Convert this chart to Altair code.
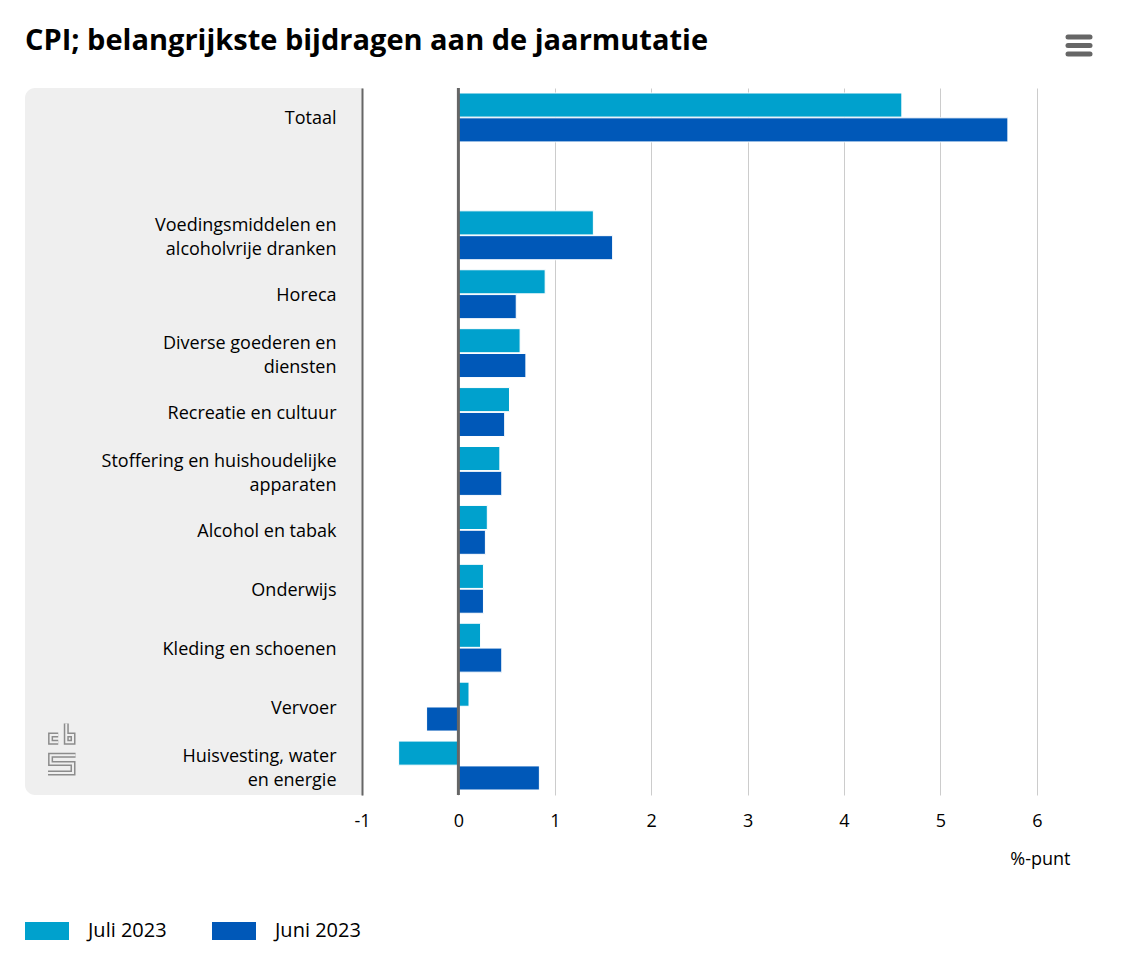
import altair as alt
import pandas as pd

categories = [
    "Totaal",
    " ",
    "Voedingsmiddelen en\nalcoholvrije dranken",
    "Horeca",
    "Diverse goederen en\ndiensten",
    "Recreatie en cultuur",
    "Stoffering en huishoudelijke\napparaten",
    "Alcohol en tabak",
    "Onderwijs",
    "Kleding en schoenen",
    "Vervoer",
    "Huisvesting, water\nen energie",
]
bar_categories = [c for c in categories if c.strip()]
juli = [4.6, 1.4, 0.9, 0.64, 0.53, 0.43, 0.3, 0.26, 0.23, 0.11, -0.62]
juni = [5.7, 1.6, 0.6, 0.7, 0.48, 0.45, 0.28, 0.26, 0.45, -0.33, 0.84]
series = ["Juli 2023", "Juni 2023"]
colors = ["#00a1cd", "#0058b8"]
x_ticks = [-1, 0, 1, 2, 3, 4, 5, 6]
title_text = "CPI; belangrijkste bijdragen aan de jaarmutatie"
unit_text = "%-punt"

FONT = "Open Sans"
TITLE_FONT = "Open Sans"

# decorative logo outline (c, b, s), unit symbol coordinates
LOGO_PATH = (
    "M-0.148,-0.552L-0.448,-0.552L-0.448,-0.26L-0.148,-0.26"
    "M0.168,-1L0.168,-0.26L0.432,-0.26L0.432,-0.552L0.168,-0.552"
    "M0.532,0.248L-0.448,0.248L-0.448,0.572L0.432,0.572L0.432,0.94L-0.548,0.94"
)

rows = []
for s, vals in zip(series, [juli, juni]):
    for c, v in zip(bar_categories, vals):
        rows.append({"categorie": c, "reeks": s, "waarde": v})
df = pd.DataFrame(rows)
one = pd.DataFrame({"a": [0]})

W, H = 723, 707

x_scale = alt.Scale(domain=[-1, 6.5], nice=False, zero=False)

panel_round = alt.Chart(one).mark_rect(color="#efefef", cornerRadius=10).encode(
    x=alt.value(-337), x2=alt.value(-10), y=alt.value(0), y2=alt.value(H)
)
panel_flat = alt.Chart(one).mark_rect(color="#efefef").encode(
    x=alt.value(-30), x2=alt.value(0), y=alt.value(0), y2=alt.value(H)
)

logo_outer = alt.Chart(one).mark_point(
    shape=LOGO_PATH, filled=False, stroke="#8c8c8c", strokeWidth=5,
    strokeJoin="miter", strokeCap="butt", opacity=1, size=2600,
).encode(x=alt.value(-300), y=alt.value(661))
logo_inner = alt.Chart(one).mark_point(
    shape=LOGO_PATH, filled=False, stroke="#efefef", strokeWidth=2,
    strokeJoin="miter", strokeCap="butt", opacity=1, size=2600,
).encode(x=alt.value(-300), y=alt.value(661))

bars = alt.Chart(df).mark_bar(stroke="#ffffff", strokeWidth=1).encode(
    x=alt.X(
        "waarde:Q",
        scale=x_scale,
        axis=alt.Axis(
            values=x_ticks,
            grid=True,
            gridColor="#cccccc",
            gridWidth=1,
            domain=False,
            ticks=False,
            labelFlush=False,
            labelFontSize=18,
            labelFont=FONT,
            labelColor="#000000",
            labelPadding=17,
            labelExpr="'' + datum.value",
            title=unit_text,
            titleFont=FONT,
            titleFontSize=18,
            titleFontWeight="normal",
            titleColor="#000000",
            titleAnchor="end",
            titleAlign="right",
            titleBaseline="alphabetic",
            titleX=708,
            titleY=69,
        ),
    ),
    y=alt.Y(
        "categorie:N",
        sort=categories,
        scale=alt.Scale(domain=categories, paddingInner=0.17, paddingOuter=0.085),
        axis=alt.Axis(
            title=None,
            labelExpr="split(datum.label, '\\n')",
            labelFont=FONT,
            labelFontSize=18,
            labelColor="#000000",
            labelPadding=26,
            labelLineHeight=24,
            labelLimit=400,
            labelOffset={
                "condition": {"test": "indexof(datum.label, '\\n') >= 0", "value": -9},
                "value": 2,
            },
            ticks=False,
            domainColor="#666666",
            domainWidth=2,
            zindex=1,
        ),
    ),
    yOffset=alt.YOffset("reeks:N", sort=series, scale=alt.Scale(paddingInner=0.03)),
    color=alt.Color(
        "reeks:N",
        sort=series,
        scale=alt.Scale(domain=series, range=colors),
        legend=alt.Legend(
            title=None,
            orient="none",
            direction="horizontal",
            legendX=-337,
            legendY=821,
            symbolType="M-1,-0.41H1V0.41H-1Z",
            symbolSize=1936,
            symbolStrokeWidth=0,
            symbolOpacity=1,
            labelFont=FONT,
            labelFontSize=20,
            labelColor="#000000",
            labelOffset=19,
            columnPadding=45,
        ),
    ),
)

zero_rule = alt.Chart(one).mark_rule(color="#666666", strokeWidth=3).encode(
    x=alt.datum(0, scale=x_scale)
)

menu = [
    alt.Chart(one).mark_rule(color="#666666", strokeWidth=5, strokeCap="round").encode(
        x=alt.value(706), x2=alt.value(728), y=alt.value(yy), y2=alt.value(yy)
    )
    for yy in [-51, -42.5, -34]
]

title = alt.Chart(one).mark_text(
    text=title_text,
    align="left",
    baseline="alphabetic",
    font=TITLE_FONT,
    fontSize=29,
    fontWeight="bold",
    color="#000000",
).encode(x=alt.value(-337), y=alt.value(-38))

chart = alt.layer(
    panel_round, panel_flat, logo_outer, logo_inner, bars, zero_rule, title, *menu
).properties(
    width=W,
    height=H,
    padding={"left": 354, "top": 80, "right": 30, "bottom": 158},
    autosize=alt.AutoSizeParams(type="none"),
    background="#ffffff",
).configure_view(stroke="transparent", strokeWidth=0)

chart.save("out.html", embed_options={"renderer": "svg", "actions": False})
